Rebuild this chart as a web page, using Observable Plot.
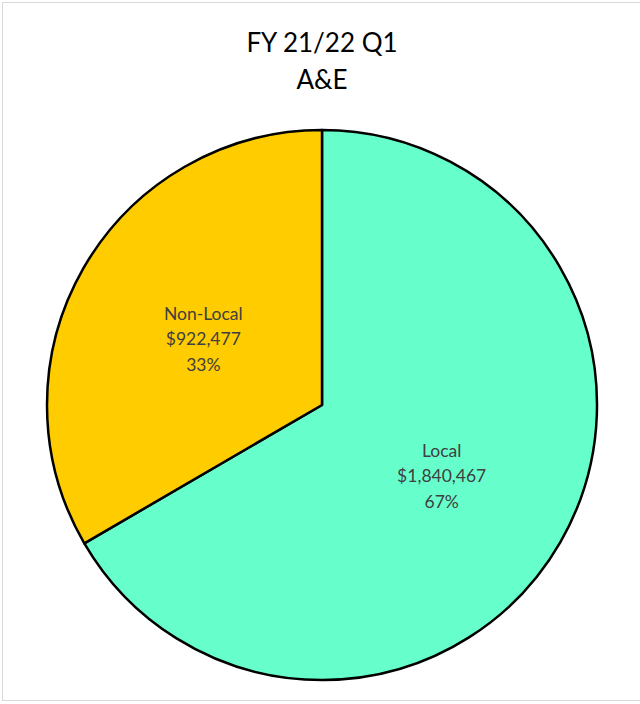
<!DOCTYPE html>
<html>
<head>
<meta charset="utf-8">
<script src="https://cdn.jsdelivr.net/npm/d3@7"></script>
<script src="https://cdn.jsdelivr.net/npm/@observablehq/plot@0.6"></script>
<style>
  html, body { margin: 0; padding: 0; background: #fff; }
  #frame {
    position: absolute; left: 2px; top: 2px; width: 660px; height: 699px;
    border: 1px solid #d9d9d9; box-sizing: border-box;
  }
  #wrap { position: absolute; left: 0; top: 0; width: 640px; height: 704px; }
  #title {
    height: 110px; box-sizing: border-box; padding-top: 24px;
    text-align: center; font-family: Lato, "Open Sans", sans-serif;
    font-size: 26px; line-height: 37px; color: #000; padding-left: 4px;
  }
  #chart svg { display: block; }
</style>
</head>
<body>
<div id="frame"></div>
<div id="wrap">
  <div id="title">FY 21/22 Q1<br>A&amp;E</div>
  <div id="chart"></div>
</div>
<script>
const categories = ["Local", "Non-Local"];
const values = [1840467, 922477];
const colors = ["#66FFCC", "#FFCC00"];

const total = d3.sum(values);
const data = categories.map((c, i) => ({ category: c, value: values[i], color: colors[i] }));
const arcs = d3.pie().sort(null).value(d => d.value)(data);

const labelData = arcs.map(a => {
  const mid = (a.startAngle + a.endAngle) / 2;
  const pct = Math.round(a.data.value / total * 100);
  return {
    x: 0.5 * Math.sin(mid),
    y: 0.5 * Math.cos(mid),
    text: `${a.data.category}\n$${d3.format(",")(a.data.value)}\n${pct}%`
  };
});

function pieMark(index, scales, values, dimensions) {
  const cx = scales.x(0), cy = scales.y(0);
  const r = Math.abs(scales.x(1) - scales.x(0));
  const arc = d3.arc().innerRadius(0).outerRadius(r);
  const g = d3.create("svg:g").attr("transform", `translate(${cx},${cy})`);
  g.selectAll("path")
    .data(arcs)
    .join("path")
    .attr("d", arc)
    .attr("fill", d => d.data.color)
    .attr("stroke", "#000")
    .attr("stroke-width", 2.5)
    .attr("stroke-linejoin", "round");
  return g.node();
}

const plot = Plot.plot({
  width: 640,
  height: 594,
  marginLeft: 47,
  marginRight: 43,
  marginTop: 20,
  marginBottom: 24,
  x: { domain: [-1, 1], axis: null },
  y: { domain: [-1, 1], axis: null },
  style: { fontFamily: "Lato, 'Open Sans', sans-serif", background: "transparent" },
  marks: [
    pieMark,
    Plot.text(labelData, {
      x: "x", y: "y", text: "text",
      fontSize: 17.5, lineHeight: 1.46, fill: "#404040"
    })
  ]
});
document.getElementById("chart").appendChild(plot);
</script>
</body>
</html>
